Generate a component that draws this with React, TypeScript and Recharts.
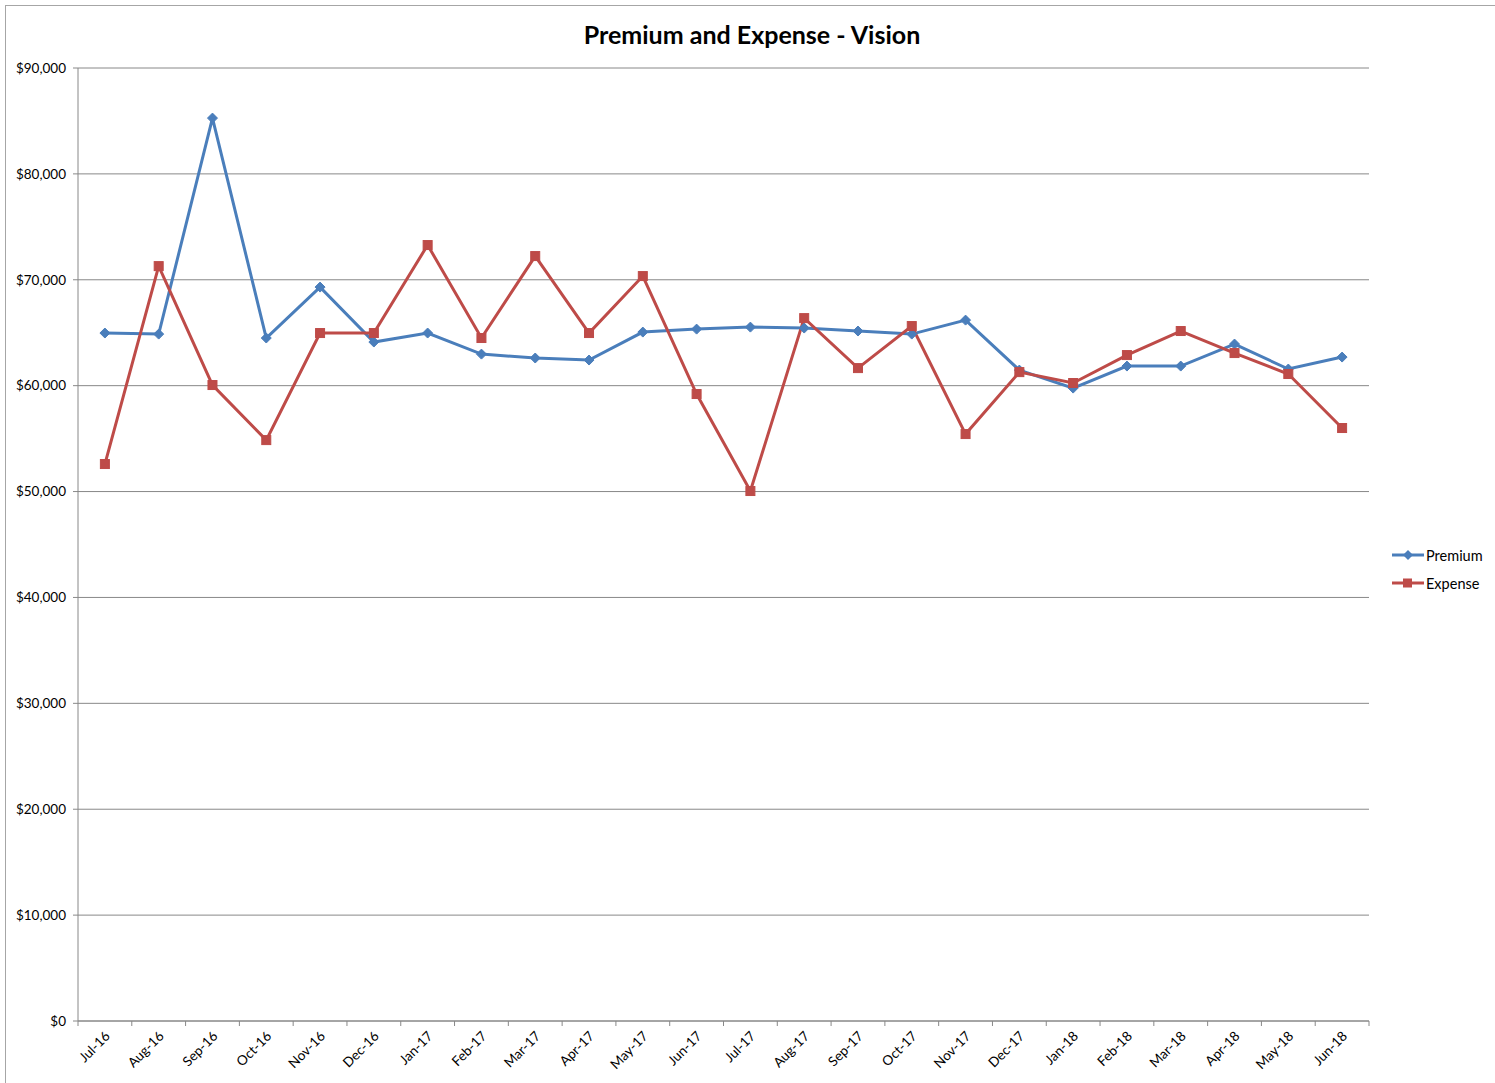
import { LineChart, Line, XAxis, YAxis, CartesianGrid } from 'recharts';

const months = [
  'Jul-16', 'Aug-16', 'Sep-16', 'Oct-16', 'Nov-16', 'Dec-16',
  'Jan-17', 'Feb-17', 'Mar-17', 'Apr-17', 'May-17', 'Jun-17',
  'Jul-17', 'Aug-17', 'Sep-17', 'Oct-17', 'Nov-17', 'Dec-17',
  'Jan-18', 'Feb-18', 'Mar-18', 'Apr-18', 'May-18', 'Jun-18',
];

const premium = [
  64970, 64870, 85270, 64500, 69310, 64120,
  64970, 62980, 62610, 62420, 65060, 65340,
  65530, 65440, 65160, 64870, 66190, 61470,
  59770, 61850, 61850, 63930, 61570, 62700,
];

const expense = [
  52600, 71290, 60060, 54860, 64970, 64970,
  73280, 64500, 72240, 64970, 70350, 59210,
  50050, 66380, 61660, 65630, 55430, 61280,
  60250, 62890, 65160, 63080, 61100, 56000,
];

const yTicks = [0, 10000, 20000, 30000, 40000, 50000, 60000, 70000, 80000, 90000];

const BLUE = '#4A7EBB';
const RED = '#BE4B48';
const GRID = '#888888';
const FONT = 'Lato, "Open Sans", sans-serif';

const chartData = months.map((m, i) => ({
  month: m,
  premium: premium[i],
  expense: expense[i],
}));

function Diamond(props: any) {
  const { cx, cy } = props;
  if (cx == null || cy == null) return null;
  const r = 5;
  return (
    <path
      d={`M${cx},${cy - r} L${cx + r},${cy} L${cx},${cy + r} L${cx - r},${cy} Z`}
      fill={BLUE}
      stroke={BLUE}
    />
  );
}

function Square(props: any) {
  const { cx, cy } = props;
  if (cx == null || cy == null) return null;
  const r = 4.5;
  return <rect x={cx - r} y={cy - r} width={r * 2} height={r * 2} fill={RED} stroke={RED} />;
}

// label plus the little marks between categories (Excel puts them on the boundaries)
function MonthTick(props: any) {
  const { x, y, payload, width, index } = props;
  const half = width / months.length / 2;
  const last = index === months.length - 1;
  return (
    <g>
      <line x1={x - half} y1={y} x2={x - half} y2={y + 5} stroke={GRID} />
      {last && <line x1={x + half} y1={y} x2={x + half} y2={y + 5} stroke={GRID} />}
      <text
        x={x + 6}
        y={y + 16}
        textAnchor="end"
        transform={`rotate(-45, ${x + 6}, ${y + 16})`}
        fontSize={13.5}
        fontFamily={FONT}
        fill="#000"
      >
        {payload.value}
      </text>
    </g>
  );
}

function LegendBox() {
  const items = [
    { label: 'Premium', color: BLUE, shape: 'diamond' },
    { label: 'Expense', color: RED, shape: 'square' },
  ];
  return (
    <div style={{ position: 'absolute', left: 1391, top: 541, fontFamily: FONT, fontSize: 14.5 }}>
      {items.map((it) => (
        <div key={it.label} style={{ display: 'flex', alignItems: 'center', height: 28 }}>
          <svg width={34} height={12} style={{ marginRight: 1 }}>
            <line x1={1} y1={6} x2={33} y2={6} stroke={it.color} strokeWidth={3} />
            {it.shape === 'diamond' ? (
              <path d="M17,1 L22,6 L17,11 L12,6 Z" fill={it.color} />
            ) : (
              <rect x={12} y={1.5} width={9} height={9} fill={it.color} />
            )}
          </svg>
          <span>{it.label}</span>
        </div>
      ))}
    </div>
  );
}

export default function App() {
  return (
    <div
      style={{
        position: 'absolute',
        left: 0,
        top: 0,
        width: 1495,
        height: 1083,
        overflow: 'hidden',
        background: '#fff',
      }}
    >
      <div
        style={{
          position: 'absolute',
          left: 5,
          top: 5,
          width: 1510,
          height: 1100,
          border: '1px solid #a6a6a6',
        }}
      />
      <div
        style={{
          position: 'absolute',
          left: 0,
          top: 19,
          width: 1504,
          textAlign: 'center',
          fontFamily: FONT,
          fontWeight: 700,
          fontSize: 25,
        }}
      >
        Premium and Expense - Vision
      </div>
      <div style={{ position: 'absolute', left: 0, top: 0 }}>
        <LineChart
          width={1495}
          height={1083}
          data={chartData}
          margin={{ top: 68, right: 126, bottom: 7, left: 8 }}
        >
          <CartesianGrid vertical={false} stroke={GRID} strokeWidth={1} />
          <XAxis
            dataKey="month"
            scale="band"
            tick={<MonthTick />}
            tickLine={false}
            tickSize={0}
            tickMargin={0}
            axisLine={{ stroke: GRID }}
            interval={0}
            height={55}
          />
          <YAxis
            domain={[0, 90000]}
            ticks={yTicks}
            width={70}
            tickSize={5}
            tickMargin={7}
            stroke={GRID}
            tickFormatter={(v: number) => `$${v.toLocaleString('en-US')}`}
            tick={{ fill: '#000', fontSize: 13.5, fontFamily: FONT }}
          />
          <Line
            type="linear"
            dataKey="premium"
            name="Premium"
            stroke={BLUE}
            strokeWidth={3}
            dot={<Diamond />}
            activeDot={false}
            isAnimationActive={false}
          />
          <Line
            type="linear"
            dataKey="expense"
            name="Expense"
            stroke={RED}
            strokeWidth={3}
            dot={<Square />}
            activeDot={false}
            isAnimationActive={false}
          />
        </LineChart>
      </div>
      <LegendBox />
    </div>
  );
}
